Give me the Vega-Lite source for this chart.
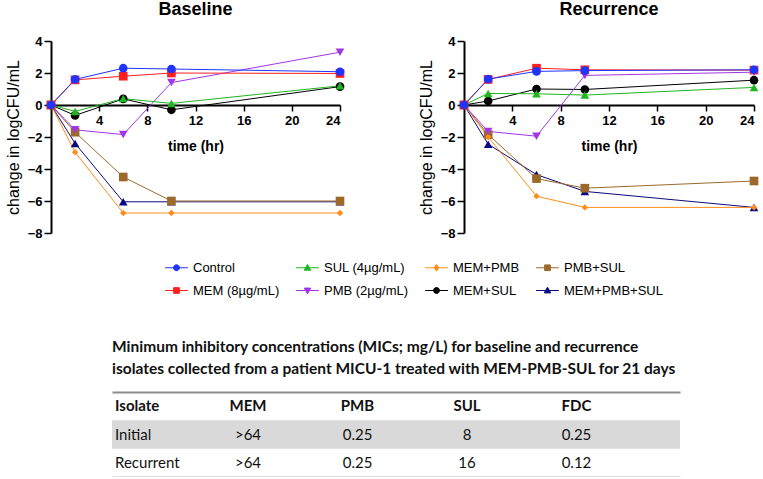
{
  "$schema": "https://vega.github.io/schema/vega-lite/v6.json",
  "padding": {"left": 5, "top": 1, "right": 0, "bottom": 0},
  "background": "white",
  "config": {
    "view": {"stroke": null},
    "font": "Liberation Sans",
    "axis": {"domainColor": "#000", "tickColor": "#000", "labelColor": "#000", "titleColor": "#000", "grid": false, "labelFont": "Liberation Sans", "titleFont": "Liberation Sans"},
    "title": {"font": "Liberation Sans", "color": "#000"},
    "legend": {"labelFont": "Liberation Sans", "labelColor": "#000", "labelFontSize": 13, "padding": 0}
  },
  "datasets": {
    "baseline": [
      {"series": "MEM+PMB+SUL", "time": 0, "change": 0}, {"series": "MEM+PMB+SUL", "time": 2, "change": -2.4}, {"series": "MEM+PMB+SUL", "time": 6, "change": -6.05}, {"series": "MEM+PMB+SUL", "time": 10, "change": -6.05}, {"series": "MEM+PMB+SUL", "time": 24, "change": -6.05},
      {"series": "PMB+SUL", "time": 0, "change": 0}, {"series": "PMB+SUL", "time": 2, "change": -1.7}, {"series": "PMB+SUL", "time": 6, "change": -4.5}, {"series": "PMB+SUL", "time": 10, "change": -6.0}, {"series": "PMB+SUL", "time": 24, "change": -6.0},
      {"series": "MEM+PMB", "time": 0, "change": 0}, {"series": "MEM+PMB", "time": 2, "change": -2.95}, {"series": "MEM+PMB", "time": 6, "change": -6.75}, {"series": "MEM+PMB", "time": 10, "change": -6.75}, {"series": "MEM+PMB", "time": 24, "change": -6.75},
      {"series": "MEM+SUL", "time": 0, "change": 0}, {"series": "MEM+SUL", "time": 2, "change": -0.65}, {"series": "MEM+SUL", "time": 6, "change": 0.38}, {"series": "MEM+SUL", "time": 10, "change": -0.3}, {"series": "MEM+SUL", "time": 24, "change": 1.15},
      {"series": "PMB (2µg/mL)", "time": 0, "change": 0}, {"series": "PMB (2µg/mL)", "time": 2, "change": -1.55}, {"series": "PMB (2µg/mL)", "time": 6, "change": -1.85}, {"series": "PMB (2µg/mL)", "time": 10, "change": 1.4}, {"series": "PMB (2µg/mL)", "time": 24, "change": 3.3},
      {"series": "SUL (4µg/mL)", "time": 0, "change": 0}, {"series": "SUL (4µg/mL)", "time": 2, "change": -0.4}, {"series": "SUL (4µg/mL)", "time": 6, "change": 0.4}, {"series": "SUL (4µg/mL)", "time": 10, "change": 0.1}, {"series": "SUL (4µg/mL)", "time": 24, "change": 1.2},
      {"series": "MEM (8µg/mL)", "time": 0, "change": 0}, {"series": "MEM (8µg/mL)", "time": 2, "change": 1.57}, {"series": "MEM (8µg/mL)", "time": 6, "change": 1.8}, {"series": "MEM (8µg/mL)", "time": 10, "change": 2.0}, {"series": "MEM (8µg/mL)", "time": 24, "change": 1.97},
      {"series": "Control", "time": 0, "change": 0}, {"series": "Control", "time": 2, "change": 1.6}, {"series": "Control", "time": 6, "change": 2.3}, {"series": "Control", "time": 10, "change": 2.25}, {"series": "Control", "time": 24, "change": 2.08}
    ],
    "recurrence": [
      {"series": "MEM+PMB+SUL", "time": 0, "change": 0}, {"series": "MEM+PMB+SUL", "time": 2, "change": -2.45}, {"series": "MEM+PMB+SUL", "time": 6, "change": -4.35}, {"series": "MEM+PMB+SUL", "time": 10, "change": -5.4}, {"series": "MEM+PMB+SUL", "time": 24, "change": -6.4},
      {"series": "PMB+SUL", "time": 0, "change": 0}, {"series": "PMB+SUL", "time": 2, "change": -1.85}, {"series": "PMB+SUL", "time": 6, "change": -4.6}, {"series": "PMB+SUL", "time": 10, "change": -5.2}, {"series": "PMB+SUL", "time": 24, "change": -4.75},
      {"series": "MEM+PMB", "time": 0, "change": 0}, {"series": "MEM+PMB", "time": 2, "change": -2.0}, {"series": "MEM+PMB", "time": 6, "change": -5.7}, {"series": "MEM+PMB", "time": 10, "change": -6.4}, {"series": "MEM+PMB", "time": 24, "change": -6.4},
      {"series": "MEM+SUL", "time": 0, "change": 0}, {"series": "MEM+SUL", "time": 2, "change": 0.25}, {"series": "MEM+SUL", "time": 6, "change": 1.0}, {"series": "MEM+SUL", "time": 10, "change": 0.97}, {"series": "MEM+SUL", "time": 24, "change": 1.55},
      {"series": "PMB (2µg/mL)", "time": 0, "change": 0}, {"series": "PMB (2µg/mL)", "time": 2, "change": -1.65}, {"series": "PMB (2µg/mL)", "time": 6, "change": -1.95}, {"series": "PMB (2µg/mL)", "time": 10, "change": 1.85}, {"series": "PMB (2µg/mL)", "time": 24, "change": 2.05},
      {"series": "SUL (4µg/mL)", "time": 0, "change": 0}, {"series": "SUL (4µg/mL)", "time": 2, "change": 0.72}, {"series": "SUL (4µg/mL)", "time": 6, "change": 0.7}, {"series": "SUL (4µg/mL)", "time": 10, "change": 0.62}, {"series": "SUL (4µg/mL)", "time": 24, "change": 1.1},
      {"series": "MEM (8µg/mL)", "time": 0, "change": 0}, {"series": "MEM (8µg/mL)", "time": 2, "change": 1.6}, {"series": "MEM (8µg/mL)", "time": 6, "change": 2.3}, {"series": "MEM (8µg/mL)", "time": 10, "change": 2.2}, {"series": "MEM (8µg/mL)", "time": 24, "change": 2.18},
      {"series": "Control", "time": 0, "change": 0}, {"series": "Control", "time": 2, "change": 1.62}, {"series": "Control", "time": 6, "change": 2.1}, {"series": "Control", "time": 10, "change": 2.15}, {"series": "Control", "time": 24, "change": 2.2}
    ],
    "table": [
      {"row": "Header", "col": "Isolate", "text": "Isolate"}, {"row": "Header", "col": "MEM", "text": "MEM"}, {"row": "Header", "col": "PMB", "text": "PMB"}, {"row": "Header", "col": "SUL", "text": "SUL"}, {"row": "Header", "col": "FDC", "text": "FDC"},
      {"row": "Initial", "col": "Isolate", "text": "Initial"}, {"row": "Initial", "col": "MEM", "text": ">64"}, {"row": "Initial", "col": "PMB", "text": "0.25"}, {"row": "Initial", "col": "SUL", "text": "8"}, {"row": "Initial", "col": "FDC", "text": "0.25"},
      {"row": "Recurrent", "col": "Isolate", "text": "Recurrent"}, {"row": "Recurrent", "col": "MEM", "text": ">64"}, {"row": "Recurrent", "col": "PMB", "text": "0.25"}, {"row": "Recurrent", "col": "SUL", "text": "16"}, {"row": "Recurrent", "col": "FDC", "text": "0.12"}
    ]
  },
  "spacing": 99,
  "vconcat": [
    {
      "spacing": 73,
      "hconcat": [
        {
          "title": {"text": "Baseline", "fontSize": 18, "fontWeight": "bold", "offset": 16},
          "width": 289,
          "height": 192,
          "data": {"name": "baseline"},
          "encoding": {
            "x": {"field": "time", "type": "quantitative", "scale": {"domain": [0, 24], "nice": false},
              "axis": {"values": [4, 8, 12, 16, 20, 24], "title": "time (hr)", "offset": -128, "labelFontSize": 13, "labelFontWeight": "bold", "titleFontSize": 14, "titleFontWeight": "bold", "domainWidth": 2, "tickWidth": 1.5, "tickSize": 6, "labelPadding": 3, "titlePadding": 12}},
            "y": {"field": "change", "type": "quantitative", "scale": {"domain": [-8, 4], "nice": false},
              "axis": {"values": [-8, -6, -4, -2, 0, 2, 4], "title": "change in logCFU/mL", "titleFontSize": 16, "titleFontWeight": "normal", "labelFontSize": 13, "labelFontWeight": "bold", "domainWidth": 2, "tickWidth": 1.5, "tickSize": 7, "labelPadding": 2, "titlePadding": 6}}
          },
          "layer": [
            {
              "transform": [{"filter": "datum.time === 0"}],
              "mark": {"type": "point", "filled": true, "opacity": 0, "size": 36},
              "encoding": {
                "fill": {"field": "series", "type": "nominal",
                  "scale": {"domain": ["Control", "MEM (8µg/mL)", "SUL (4µg/mL)", "PMB (2µg/mL)", "MEM+PMB", "MEM+SUL", "PMB+SUL", "MEM+PMB+SUL"], "range": ["#1f35ff", "#ff1f1f", "#1fb51f", "#a235e8", "#ff8c1a", "#000000", "#9b6a2a", "#0a0a80"]},
                  "legend": {"orient": "none", "legendX": 119, "legendY": 220, "columns": 4, "title": null, "symbolSize": 36, "symbolStrokeWidth": 1, "symbolOpacity": 1, "labelOffset": 10, "columnPadding": 14, "rowPadding": 9}},
                "stroke": {"field": "series", "type": "nominal",
                  "scale": {"domain": ["Control", "MEM (8µg/mL)", "SUL (4µg/mL)", "PMB (2µg/mL)", "MEM+PMB", "MEM+SUL", "PMB+SUL", "MEM+PMB+SUL"], "range": ["#1f35ff", "#ff1f1f", "#1fb51f", "#a235e8", "#ff8c1a", "#000000", "#9b6a2a", "#0a0a80"]},
                  "legend": {"orient": "none", "legendX": 119, "legendY": 220, "columns": 4, "title": null, "symbolSize": 36, "symbolStrokeWidth": 1, "symbolOpacity": 1, "labelOffset": 10, "columnPadding": 14, "rowPadding": 9}},
                "shape": {"field": "series", "type": "nominal",
                  "scale": {"domain": ["Control", "MEM (8µg/mL)", "SUL (4µg/mL)", "PMB (2µg/mL)", "MEM+PMB", "MEM+SUL", "PMB+SUL", "MEM+PMB+SUL"],
                    "range": ["M-3.8,0H3.8M1,0A1,1,0,1,1,-1,0A1,1,0,1,1,1,0Z", "M-3.8,0H3.8M-0.95,-0.95H0.95V0.95H-0.95Z", "M-3.8,0H3.8M0,-1.1L1.1,0.8H-1.1Z", "M-3.8,0H3.8M0,1.1L1.1,-0.8H-1.1Z", "M-3.8,0H3.8M0,-1.1L0.8,0L0,1.1L-0.8,0Z", "M-3.8,0H3.8M1,0A1,1,0,1,1,-1,0A1,1,0,1,1,1,0Z", "M-3.8,0H3.8M-0.95,-0.95H0.95V0.95H-0.95Z", "M-3.8,0H3.8M0,-1.1L1.1,0.8H-1.1Z"]},
                  "legend": {"orient": "none", "legendX": 119, "legendY": 220, "columns": 4, "title": null, "symbolSize": 36, "symbolStrokeWidth": 1, "symbolOpacity": 1, "labelOffset": 10, "columnPadding": 14, "rowPadding": 9}}
              }
            },
            {
              "mark": {"type": "line", "strokeWidth": 1},
              "encoding": {
                "stroke": {"field": "series", "type": "nominal", "legend": null}
              }
            },
            {
              "mark": {"type": "point", "filled": true, "strokeWidth": 0, "opacity": 1},
              "encoding": {
                "fill": {"field": "series", "type": "nominal", "legend": null},
                "shape": {"condition": [
                  {"test": "datum.series === 'MEM (8µg/mL)' || datum.series === 'PMB+SUL'", "value": "square"},
                  {"test": "datum.series === 'SUL (4µg/mL)' || datum.series === 'MEM+PMB+SUL'", "value": "triangle-up"},
                  {"test": "datum.series === 'PMB (2µg/mL)'", "value": "triangle-down"},
                  {"test": "datum.series === 'MEM+PMB'", "value": "diamond"}], "value": "circle"},
                "size": {"condition": {"test": "datum.series === 'MEM+PMB'", "value": 40}, "value": 75}
              }
            }
          ]
        },
        {
          "title": {"text": "Recurrence", "fontSize": 18, "fontWeight": "bold", "offset": 16},
          "width": 290,
          "height": 192,
          "data": {"name": "recurrence"},
          "encoding": {
            "x": {"field": "time", "type": "quantitative", "scale": {"domain": [0, 24], "nice": false},
              "axis": {"values": [4, 8, 12, 16, 20, 24], "title": "time (hr)", "offset": -128, "labelFontSize": 13, "labelFontWeight": "bold", "titleFontSize": 14, "titleFontWeight": "bold", "domainWidth": 2, "tickWidth": 1.5, "tickSize": 6, "labelPadding": 3, "titlePadding": 12}},
            "y": {"field": "change", "type": "quantitative", "scale": {"domain": [-8, 4], "nice": false},
              "axis": {"values": [-8, -6, -4, -2, 0, 2, 4], "title": "change in logCFU/mL", "titleFontSize": 16, "titleFontWeight": "normal", "labelFontSize": 13, "labelFontWeight": "bold", "domainWidth": 2, "tickWidth": 1.5, "tickSize": 7, "labelPadding": 2, "titlePadding": 6}}
          },
          "layer": [
            {
              "mark": {"type": "line", "strokeWidth": 1},
              "encoding": {
                "stroke": {"field": "series", "type": "nominal", "legend": null}
              }
            },
            {
              "mark": {"type": "point", "filled": true, "strokeWidth": 0, "opacity": 1},
              "encoding": {
                "fill": {"field": "series", "type": "nominal", "legend": null},
                "shape": {"condition": [
                  {"test": "datum.series === 'MEM (8µg/mL)' || datum.series === 'PMB+SUL'", "value": "square"},
                  {"test": "datum.series === 'SUL (4µg/mL)' || datum.series === 'MEM+PMB+SUL'", "value": "triangle-up"},
                  {"test": "datum.series === 'PMB (2µg/mL)'", "value": "triangle-down"},
                  {"test": "datum.series === 'MEM+PMB'", "value": "diamond"}], "value": "circle"},
                "size": {"condition": {"test": "datum.series === 'MEM+PMB'", "value": 40}, "value": 75}
              }
            }
          ]
        }
      ]
    },
    {
      "spacing": 0,
      "hconcat": [
        {
          "width": 61,
          "height": 10,
          "data": {"values": []},
          "mark": {"type": "rule"},
          "encoding": {}
        },
        {
          "title": {"text": ["Minimum inhibitory concentrations (MICs; mg/L) for baseline and recurrence", "isolates collected from a patient MICU-1 treated with MEM-PMB-SUL for 21 days"], "anchor": "start", "frame": "group", "font": "Lato", "fontSize": 15.5, "fontWeight": "bold", "lineHeight": 22, "offset": 15, "color": "#111"},
          "width": 568,
          "height": 85,
          "data": {"name": "table"},
          "resolve": {"axis": {"x": "independent"}},
          "layer": [
            {
              "transform": [{"filter": "datum.row === 'Initial' && datum.col === 'Isolate'"}],
              "mark": {"type": "rect", "color": "#d9d9d9"},
              "encoding": {
                "y": {"field": "row", "type": "nominal", "scale": {"type": "band", "domain": ["Header", "Initial", "Recurrent"], "paddingInner": 0, "paddingOuter": 0}, "axis": null}
              }
            },
            {
              "transform": [{"filter": "datum.col === 'Isolate'"}],
              "mark": {"type": "text", "align": "left", "dx": -23.5, "font": "Lato", "fontSize": 15, "color": "#111", "fontWeight": {"expr": "datum.row === 'Header' ? 'bold' : 'normal'"}},
              "encoding": {
                "x": {"field": "col", "type": "nominal", "scale": {"type": "point", "domain": ["Isolate", "MEM", "PMB", "SUL", "FDC"], "padding": 0.594, "align": 0.204},
                  "axis": {"orient": "bottom", "labels": false, "ticks": false, "title": null, "domainColor": "#8c8c8c", "domainWidth": 1.5}},
                "y": {"field": "row", "type": "nominal", "scale": {"type": "band", "domain": ["Header", "Initial", "Recurrent"], "paddingInner": 0, "paddingOuter": 0}, "axis": null},
                "text": {"field": "text"}
              }
            },
            {
              "transform": [{"filter": "datum.col !== 'Isolate'"}],
              "mark": {"type": "text", "align": "center", "font": "Lato", "fontSize": 15, "color": "#111", "fontWeight": {"expr": "datum.row === 'Header' ? 'bold' : 'normal'"}},
              "encoding": {
                "x": {"field": "col", "type": "nominal", "scale": {"type": "point", "domain": ["Isolate", "MEM", "PMB", "SUL", "FDC"], "padding": 0.594, "align": 0.204},
                  "axis": {"orient": "top", "labels": false, "ticks": false, "title": null, "domainColor": "#8c8c8c", "domainWidth": 2}},
                "y": {"field": "row", "type": "nominal", "scale": {"type": "band", "domain": ["Header", "Initial", "Recurrent"], "paddingInner": 0, "paddingOuter": 0}, "axis": null},
                "text": {"field": "text"}
              }
            }
          ]
        }
      ]
    }
  ]
}
